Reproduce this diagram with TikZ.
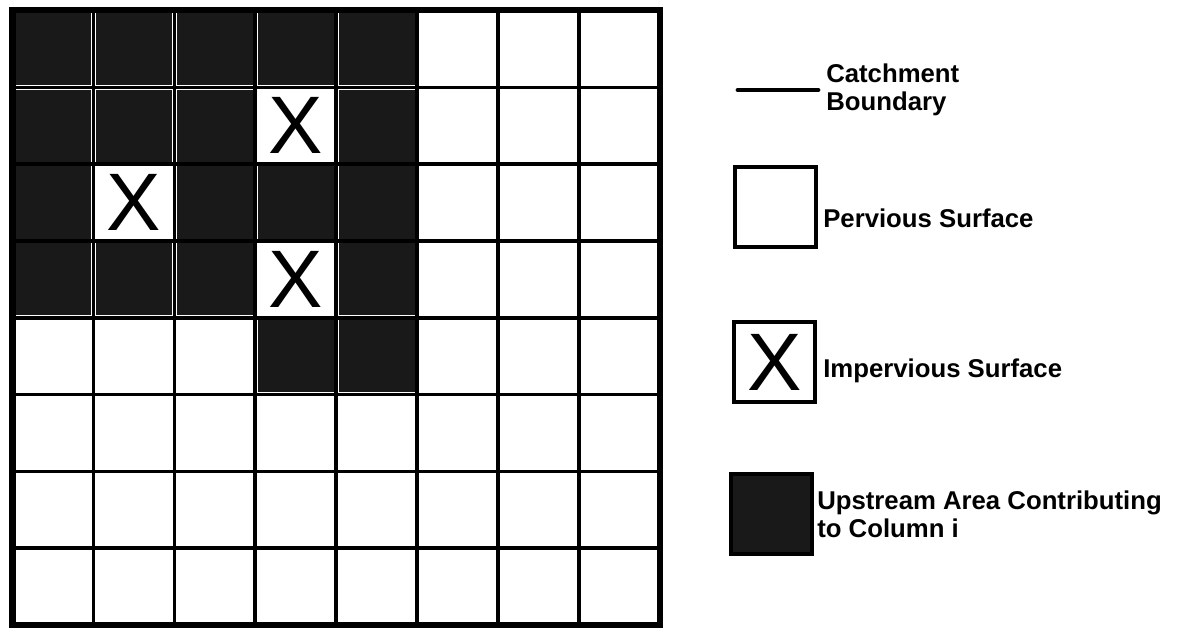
\documentclass[tikz,border=0pt]{standalone}
\usepackage{fontspec}
\setmainfont{Liberation Sans}
\usepackage{tikz}
\usetikzlibrary{positioning}

\begin{document}
\begin{tikzpicture}[x=0.025cm,y=-0.025cm,
  every node/.style={font=\bfseries\fontsize{18.3pt}{20pt}\selectfont,inner sep=0pt},
  cellline/.style={line width=0.09cm},
  border/.style={line width=0.15cm},
  upstream/.style={fill=black!90},
  imperv/.style={font=\fontsize{58pt}{58pt}\selectfont},
  legendbox/.style={draw,line width=0.1cm,minimum width=2.03cm,minimum height=2cm}]
  \fill[white] (0,0) rectangle (1185,630);
  \useasboundingbox (0,0) rectangle (1185,630);
  % catchment: 8 x 8 cells
  \begin{scope}[shift={(12.5,10.5)},x=2.0225cm,y=-1.92cm]
    \foreach \c/\r in {1/1,2/1,3/1,4/1,5/1,1/2,2/2,3/2,5/2,1/3,3/3,4/3,5/3,1/4,2/4,3/4,5/4,4/5,5/5}
      \fill[upstream] (\c-0.97,\r-0.97) rectangle (\c-0.03,\r-0.03);
    \foreach \i in {1,...,7} {
      \draw[cellline] (\i,0) -- (\i,8);
      \draw[cellline] (0,\i) -- (8,\i);
    }
    \draw[border] (0,0) rectangle (8,8);
    \node[imperv] (x42) at (3.5,1.5) {X};
    \node[imperv] (x23) at (1.5,2.5) {X};
    \node[imperv] (x44) at (3.5,3.5) {X};
  \end{scope}
  % legend
  \coordinate (bndA) at (738,90);
  \coordinate (bndB) at (818,90);
  \draw[line width=0.12cm,line cap=round] (bndA) -- (bndB);
  \node[anchor=west,align=left] (bndtext) at (826,90) {Catchment\\Boundary};
  \node[legendbox] (perv) at (775.5,207) {};
  \node[anchor=base west] (pervtext) at (823,228) {Pervious Surface};
  \node[legendbox,imperv] (imp) at (774.5,362) {X};
  \node[anchor=base west] (imptext) at (823,377) {Impervious Surface};
  \node[legendbox,upstream] (up) at (771.5,514) {};
  \node[anchor=west,align=left] (uptext) at (817,514) {Upstream Area Contributing\\to Column i};
\end{tikzpicture}
\end{document}
